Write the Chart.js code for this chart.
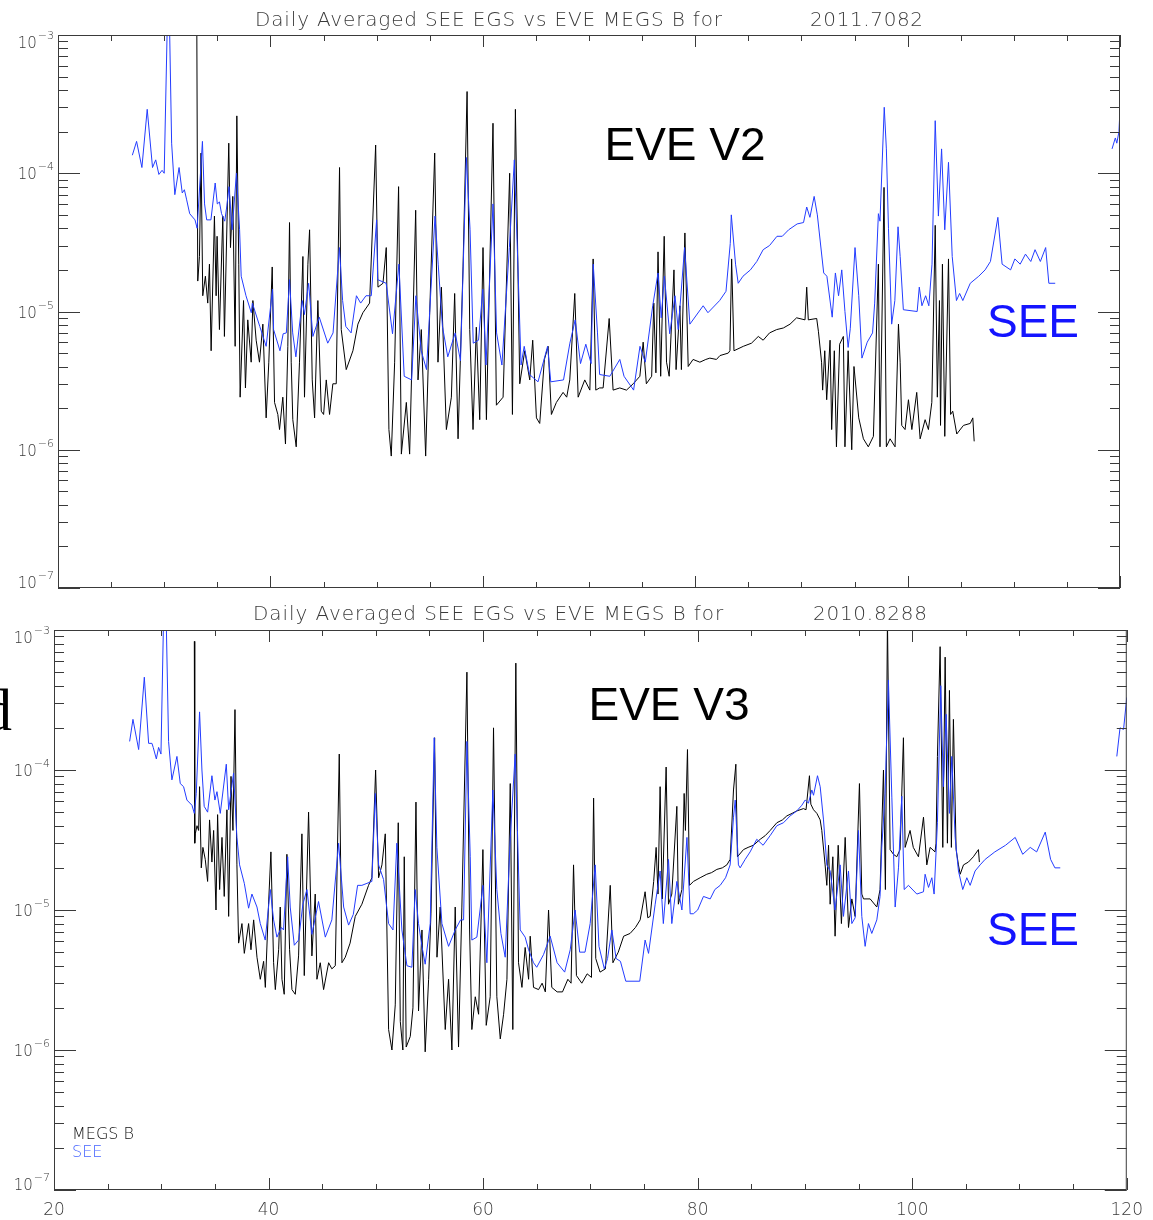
<!DOCTYPE html>
<html>
<head>
<meta charset="utf-8">
<script src="https://cdn.jsdelivr.net/npm/chart.js@4.4.1/dist/chart.umd.min.js"></script>
<style>
  html, body { margin: 0; padding: 0; background: #fff; }
  #wrap { position: relative; width: 1153px; height: 1220px; overflow: hidden; }
  canvas { position: absolute; left: 0; }
</style>
</head>
<body>
<div id="wrap">
  <canvas id="c1" width="1153" height="600" style="top:0"></canvas>
  <canvas id="c2" width="1153" height="620" style="top:600px"></canvas>
</div>
<script>
// ---------------- data (wavelength nm, irradiance) ----------------
const xTickValues = [20, 40, 60, 80, 100, 120];
const yDecades = [1e-7, 1e-6, 1e-5, 1e-4, 1e-3];
const panelTitles = ['Daily Averaged SEE EGS vs EVE MEGS B for', 'Daily Averaged SEE EGS vs EVE MEGS B for'];
const panelDates = ['2011.7082', '2010.8288'];
const panelLabels = ['EVE V2', 'EVE V3'];
const seriesNames = ['MEGS B', 'SEE'];

const v2See = [[27.0,1.35e-4],[27.4,1.7e-4],[27.9,1.1e-4],[28.4,2.9e-4],[28.9,1.1e-4],[29.2,1.25e-4],[29.5,9.8e-5],[29.8,1.05e-4],[30.0,1.0e-4],[30.3,1.3e-3],[30.5,1.2e-3],[30.7,1.65e-4],[31.0,7e-5],[31.4,1.1e-4],[31.7,7.2e-5],[31.9,7.6e-5],[32.1,6.5e-5],[32.4,5.1e-5],[32.9,4.6e-5],[33.1,4e-5],[33.6,1.7e-4],[33.8,6e-5],[34.0,4.6e-5],[34.4,4.6e-5],[34.8,8.5e-5],[35.0,6e-5],[35.2,6.2e-5],[35.4,5.1e-5],[35.7,4.5e-5],[35.9,5.8e-5],[36.1,8e-5],[36.4,3.9e-5],[36.8,1.0e-4],[37.1,3.9e-5],[37.25,1.8e-5],[37.7,1.3e-5],[38.2,9.8e-6],[38.3,1.15e-5],[39.0,7.8e-6],[39.6,5.6e-6],[40.2,1.45e-5],[40.3,7.4e-6],[40.9,5.2e-6],[41.2,6.9e-6],[41.5,7e-6],[41.8,1.7e-5],[42.1,7e-6],[42.4,4.7e-6],[43.0,1.2e-5],[43.2,9.5e-6],[43.6,1.6e-5],[44.0,6.6e-6],[44.6,9.1e-6],[45.4,5.9e-6],[45.9,7e-6],[46.5,2.9e-5],[46.8,1.2e-5],[47.1,7.8e-6],[47.6,7e-6],[48.1,1.3e-5],[48.5,1.15e-5],[49.0,1.3e-5],[49.5,1.3e-5],[50.0,4.6e-5],[50.1,1.7e-5],[50.9,1.6e-5],[51.5,6.9e-6],[52.1,2.2e-5],[52.6,3.4e-6],[53.3,3.2e-6],[53.7,1.3e-5],[54.2,5.2e-6],[54.7,3.8e-6],[55.5,4.9e-5],[55.8,2.2e-5],[56.2,7.8e-6],[56.7,4.7e-6],[57.4,7e-6],[57.9,4.4e-6],[58.45,1.3e-4],[58.8,3.9e-5],[59.1,5.9e-6],[59.6,6.2e-6],[60.0,1.45e-5],[60.3,4.1e-6],[60.96,6e-5],[61.3,7e-6],[61.8,4.1e-6],[62.5,2.9e-5],[62.97,1.25e-4],[63.3,2.2e-5],[63.6,4.1e-6],[63.9,5.6e-6],[64.4,3.5e-6],[65.2,3.1e-6],[66.1,5.6e-6],[66.4,3.1e-6],[67.6,3.2e-6],[68.2,5.9e-6],[68.7,8.7e-6],[69.2,4.2e-6],[69.7,5.8e-6],[70.2,4.2e-6],[70.4,2.2e-5],[70.8,7e-6],[71.0,3.5e-6],[71.96,3.4e-6],[72.9,4.5e-6],[73.3,3.4e-6],[74.2,2.7e-6],[74.8,5.6e-6],[75.3,4.3e-6],[76.0,1.1e-5],[76.5,1.9e-5],[76.8,9e-6],[77.1,1.8e-5],[77.6,6.9e-6],[78.1,1.3e-5],[78.4,7.4e-6],[79.0,2.9e-5],[79.5,8.1e-6],[80.75,1.1e-5],[81.2,9.8e-6],[82.3,1.2e-5],[82.9,1.4e-5],[83.3,3.1e-5],[83.4,5e-5],[83.8,2.2e-5],[84.05,1.6e-5],[84.5,1.8e-5],[85.2,2.0e-5],[85.8,2.3e-5],[86.4,2.8e-5],[87.0,3.0e-5],[87.7,3.5e-5],[88.2,3.5e-5],[88.8,3.9e-5],[89.6,4.3e-5],[90.2,4.4e-5],[90.5,5.7e-5],[90.8,4.8e-5],[91.2,6.8e-5],[91.5,5.0e-5],[92.1,1.9e-5],[92.4,1.8e-5],[92.9,9.1e-6],[93.2,1.9e-5],[93.5,1.3e-5],[93.8,2.0e-5],[94.1,1.0e-5],[94.4,5.5e-6],[94.6,7.5e-6],[95.05,2.9e-5],[95.4,1.3e-5],[95.7,4.6e-6],[96.2,6e-6],[96.7,7e-6],[96.9,1.15e-5],[97.25,5.1e-5],[97.4,4.5e-5],[97.8,3e-4],[98.0,1.5e-4],[98.2,4e-5],[98.5,8.1e-6],[98.8,1.2e-5],[99.1,4.1e-5],[99.3,2.5e-5],[99.6,1.03e-5],[100.9,1.0e-5],[101.1,1.5e-5],[101.35,1.1e-5],[101.7,1.3e-5],[102.0,1.1e-5],[102.3,2.2e-5],[102.6,2.4e-4],[102.9,4.9e-5],[103.2,1.5e-4],[103.5,3.9e-5],[103.85,1.2e-4],[104.2,2.5e-5],[104.6,1.2e-5],[104.9,1.35e-5],[105.2,1.2e-5],[105.9,1.6e-5],[106.7,1.8e-5],[107.3,2e-5],[107.8,2.3e-5],[108.5,4.8e-5],[108.9,2.2e-5],[109.7,2e-5],[110.1,2.4e-5],[110.6,2.2e-5],[111.1,2.6e-5],[111.6,2.3e-5],[112.0,2.8e-5],[112.5,2.3e-5],[113.0,2.9e-5],[113.3,1.6e-5],[113.9,1.6e-5],[116.0,null],[119.25,1.5e-4],[119.56,1.8e-4],[119.7,1.65e-4],[119.9,2e-4],[120.0,2.9e-4]];

const v2Megs = [[33.07,1.2e-3],[33.16,1.66e-5],[33.32,2.5e-5],[33.47,1.4e-4],[33.63,1.3e-5],[33.88,1.8e-5],[34.10,1.15e-5],[34.26,2.2e-5],[34.42,5.2e-6],[34.73,4.9e-5],[34.89,1.3e-5],[34.98,3.5e-5],[35.20,7.4e-6],[35.52,4.9e-5],[35.67,6.6e-6],[36.08,1.65e-4],[36.24,2.9e-5],[36.46,6.8e-5],[36.68,5.6e-6],[36.84,2.6e-4],[37.02,2.2e-5],[37.15,2.4e-6],[37.47,1.2e-5],[37.65,2.8e-6],[37.87,8.7e-6],[38.19,4.3e-6],[38.35,1.2e-5],[38.66,6.2e-6],[38.97,4.3e-6],[39.29,8.1e-6],[39.60,1.7e-6],[39.85,4.3e-6],[40.17,2.1e-5],[40.39,2.2e-6],[40.70,1.8e-6],[40.86,1.4e-6],[41.17,2.4e-6],[41.42,1.1e-6],[41.64,5.6e-6],[41.80,4.4e-5],[41.96,4.3e-6],[42.11,1.65e-6],[42.43,1.05e-6],[42.74,4.3e-6],[43.06,2.5e-5],[43.21,2.4e-6],[43.53,2.2e-5],[43.69,3.9e-5],[43.94,3.2e-6],[44.16,1.7e-6],[44.47,1.2e-5],[44.79,1.9e-6],[45.01,1.8e-6],[45.26,3.2e-6],[45.57,1.8e-6],[45.88,3e-6],[46.20,3e-6],[46.51,1.1e-4],[46.67,7.4e-6],[47.14,3.8e-6],[47.77,5.2e-6],[48.24,8.1e-6],[48.71,9.8e-6],[49.34,1.15e-5],[49.91,1.6e-4],[50.13,1.5e-5],[50.60,1.6e-5],[50.91,2.9e-5],[51.16,1.4e-6],[51.38,9e-7],[51.70,4.3e-6],[52.07,8e-5],[52.33,9.3e-7],[52.80,2.2e-6],[53.11,9.3e-7],[53.68,5.4e-5],[53.90,3.2e-6],[54.21,7.4e-6],[54.62,9e-7],[55.00,9.8e-6],[55.47,1.4e-4],[55.78,4.3e-6],[56.10,1.5e-5],[56.57,1.4e-6],[57.04,2.4e-6],[57.35,1.35e-5],[57.67,1.2e-6],[58.14,2.1e-5],[58.52,3.9e-4],[58.77,7.4e-6],[59.08,1.4e-6],[59.39,7.7e-6],[59.71,1.65e-6],[60.02,2.9e-5],[60.34,1.65e-6],[60.96,2.3e-4],[61.28,2.1e-6],[61.91,2.4e-6],[62.53,1e-4],[62.79,1.8e-6],[63.07,2.9e-4],[63.48,3e-6],[63.95,5.2e-6],[64.42,3.2e-6],[64.7,6.2e-6],[65.05,1.7e-6],[65.36,1.55e-6],[65.8,4.5e-6],[66.15,5.6e-6],[66.46,1.8e-6],[66.93,2.2e-6],[67.56,2.6e-6],[67.9,2.4e-6],[68.19,3.2e-6],[68.66,1.35e-5],[68.98,2.4e-6],[69.6,3.2e-6],[70.08,2.7e-6],[70.39,2.4e-5],[70.64,2.7e-6],[71.0,2.8e-6],[71.33,2.8e-6],[71.9,8.9e-6],[72.27,2.7e-6],[72.9,2.8e-6],[73.53,2.7e-6],[74.16,3e-6],[74.79,3.4e-6],[75.1,6e-6],[75.4,3e-6],[75.9,3.4e-6],[76.1,1.15e-5],[76.3,3.6e-6],[76.5,2.7e-5],[76.75,3.4e-6],[77.08,3.5e-5],[77.3,4.3e-6],[77.55,3.4e-6],[78.0,2e-5],[78.2,3.8e-6],[78.56,1.1e-5],[78.7,3.8e-6],[79.03,3.7e-5],[79.34,4e-6],[79.8,4.5e-6],[80.44,4.3e-6],[81.0,4.5e-6],[81.38,4.6e-6],[82.0,4.5e-6],[82.33,4.8e-6],[83.11,5e-6],[83.27,5.2e-6],[83.43,2.4e-5],[83.65,5.2e-6],[84.53,5.6e-6],[85.3,5.9e-6],[85.94,6.6e-6],[86.4,6.2e-6],[87.0,7e-6],[87.67,7.4e-6],[88.3,7.6e-6],[88.93,8.1e-6],[89.55,9e-6],[90.34,8.7e-6],[90.5,1.5e-5],[90.65,8.7e-6],[91.44,8.9e-6],[91.6,7.2e-6],[91.9,4.3e-6],[92.0,2.7e-6],[92.2,5.2e-6],[92.38,2.3e-6],[92.7,6.2e-6],[92.85,1.4e-6],[93.1,5.2e-6],[93.3,1.05e-6],[93.6,5.8e-6],[93.95,6.6e-6],[94.1,1.05e-6],[94.4,5.2e-6],[94.74,1e-6],[94.95,4e-6],[95.4,1.7e-6],[95.84,1.2e-6],[96.3,1.05e-6],[96.78,1.25e-6],[97.25,2.2e-5],[97.4,1.05e-6],[97.78,7.9e-5],[98.0,1.05e-6],[98.35,1.2e-6],[98.82,1.05e-6],[99.14,8.1e-6],[99.3,4.3e-6],[99.45,1.5e-6],[99.76,1.4e-6],[100.08,2.3e-6],[100.4,1.4e-6],[100.86,2.6e-6],[101.18,1.2e-6],[101.65,1.65e-6],[101.96,1.4e-6],[102.28,2.2e-6],[102.6,4.2e-5],[102.8,2.4e-6],[103.0,1.2e-5],[103.1,1.5e-6],[103.28,2.2e-5],[103.5,1.25e-6],[103.85,2.4e-5],[104.05,1.8e-6],[104.25,1.9e-6],[104.63,1.3e-6],[105.26,1.5e-6],[105.9,1.55e-6],[106.14,1.7e-6],[106.27,1.15e-6]];

const v3See = [[27.05,1.6e-4],[27.36,2.3e-4],[27.89,1.4e-4],[28.42,4.6e-4],[28.82,1.55e-4],[29.13,1.55e-4],[29.25,1.45e-4],[29.54,1.2e-4],[29.75,1.45e-4],[29.97,1.3e-4],[30.22,1.3e-3],[30.45,1.3e-3],[30.68,1.6e-4],[30.99,8.5e-5],[31.46,1.25e-4],[31.77,8e-5],[32.08,7.6e-5],[32.39,6.1e-5],[32.86,5.6e-5],[33.08,4.9e-5],[33.26,6.8e-5],[33.57,2.6e-4],[33.79,1e-4],[34.0,5.5e-5],[34.32,5e-5],[34.72,9.1e-5],[35.0,6.1e-5],[35.19,7e-5],[35.5,4.9e-5],[36.06,1.1e-4],[36.28,5.2e-5],[36.74,9.5e-5],[37.05,3.3e-5],[37.3,2.1e-5],[37.74,1.55e-5],[38.14,1.03e-5],[38.45,1.3e-5],[38.92,1.05e-5],[39.23,8e-6],[39.69,6.1e-6],[40.16,1.4e-5],[40.47,8.5e-6],[40.78,6.4e-6],[41.2,7.5e-6],[41.4,7.2e-6],[41.78,2.4e-5],[42.02,1.05e-5],[42.4,5.6e-6],[42.8,6.1e-6],[43.2,1.1e-5],[43.58,1.4e-5],[44.04,6.7e-6],[44.66,1.15e-5],[45.29,6.4e-6],[45.9,8.5e-6],[46.53,3e-5],[47.0,1.05e-5],[47.46,7.8e-6],[47.9,9.3e-6],[48.3,1.5e-5],[48.7,1.5e-5],[49.17,1.55e-5],[49.63,1.6e-5],[49.95,6.8e-5],[50.26,2.1e-5],[50.72,1.65e-5],[51.19,8e-6],[51.6,7.2e-6],[51.96,3e-5],[52.43,7.2e-6],[52.9,4e-6],[53.36,3.9e-6],[53.67,1.4e-5],[53.98,8e-6],[54.3,5.5e-6],[54.6,4.1e-6],[55.07,8e-6],[55.44,1.7e-4],[55.69,2.8e-5],[56.16,8e-6],[56.78,5.5e-6],[57.4,7.2e-6],[57.9,8.5e-6],[58.18,8.5e-6],[58.49,1.6e-4],[58.8,2.4e-5],[58.95,6.1e-6],[59.42,6.4e-6],[59.98,1.5e-5],[60.35,4.2e-6],[60.91,7.2e-5],[61.28,1.4e-5],[61.66,6.8e-6],[62.06,4.6e-6],[62.53,3.3e-5],[62.99,1.3e-4],[63.2,3.7e-5],[63.46,7.2e-6],[63.92,6.4e-6],[64.24,5.2e-6],[64.7,4.2e-6],[65.0,3.9e-6],[65.63,4.8e-6],[66.25,6.5e-6],[66.9,4.2e-6],[67.6,3.6e-6],[68.12,5.2e-6],[68.58,1e-5],[69.0,5e-6],[69.5,5e-6],[69.98,8e-6],[70.45,2.1e-5],[70.8,5.5e-6],[71.3,3.8e-6],[71.6,4.5e-6],[72.0,7.2e-6],[72.4,4.5e-6],[72.8,4.3e-6],[73.3,3.1e-6],[74.6,3.1e-6],[75.1,6.1e-6],[75.42,4.9e-6],[76.04,1.1e-5],[76.5,1.9e-5],[76.8,8e-6],[77.28,2.3e-5],[77.59,8e-6],[78.06,1.6e-5],[78.53,1e-5],[79.0,3.3e-5],[79.3,9.4e-6],[79.6,9.4e-6],[80.0,1e-5],[80.54,1.25e-5],[81.17,1.2e-5],[81.6,1.4e-5],[82.1,1.5e-5],[82.6,1.7e-5],[83.03,2.1e-5],[83.34,4.6e-5],[83.5,6.1e-5],[83.8,2.1e-5],[83.96,2e-5],[84.43,2.3e-5],[84.89,2.6e-5],[85.51,3.2e-5],[86.1,2.9e-5],[86.76,3.4e-5],[87.38,4e-5],[88.0,4.2e-5],[88.62,4.7e-5],[89.24,5.1e-5],[89.71,5.6e-5],[90.02,6.1e-5],[90.33,5.8e-5],[90.64,7.2e-5],[90.8,6.6e-5],[91.17,9.1e-5],[91.42,7.6e-5],[91.73,4.4e-5],[92.04,2.1e-5],[92.35,1.9e-5],[92.81,1e-5],[93.28,2.1e-5],[93.59,9e-6],[94.06,1.9e-5],[94.37,8e-6],[94.68,8.8e-6],[94.99,3.7e-5],[95.3,9e-6],[95.61,5.5e-6],[95.92,8e-6],[96.23,6.8e-6],[96.7,8.5e-6],[97.0,1.25e-5],[97.16,2.8e-5],[97.47,6.8e-5],[97.78,4.4e-4],[98.1,6.4e-5],[98.41,1.05e-5],[98.72,2e-5],[99.03,6.5e-5],[99.25,1.4e-5],[99.65,1.5e-5],[100.43,1.3e-5],[101.05,1.35e-5],[101.2,1.8e-5],[101.52,1.45e-5],[101.83,1.7e-5],[102.04,1.3e-5],[102.35,4.2e-5],[102.66,4e-4],[102.9,7.6e-5],[103.16,2.5e-4],[103.47,4.9e-5],[103.69,1.25e-4],[104.0,3.3e-5],[104.31,1.9e-5],[104.71,1.4e-5],[105.09,1.7e-5],[105.4,1.5e-5],[105.86,1.9e-5],[106.33,2.1e-5],[106.8,2.3e-5],[107.7,2.6e-5],[108.7,2.9e-5],[109.6,3.3e-5],[110.3,2.5e-5],[111.0,2.8e-5],[111.6,2.6e-5],[112.4,3.6e-5],[112.9,2.3e-5],[113.3,2e-5],[113.8,2e-5],[116.0,null],[119.07,1.25e-4],[119.37,2e-4],[119.7,1.95e-4],[120.0,3.3e-4]];

const v3Megs = [[33.08,8.3e-4],[33.12,3e-5],[33.17,3.5e-5],[33.33,4e-5],[33.48,3.7e-5],[33.57,7.6e-5],[33.73,2e-5],[33.88,2.8e-5],[34.1,2.3e-5],[34.32,1.6e-5],[34.5,4.4e-5],[34.72,2.2e-5],[34.88,3.7e-5],[35.1,1e-5],[35.25,4.8e-5],[35.44,1.4e-5],[35.66,3.3e-5],[35.87,1.25e-5],[36.12,5.2e-5],[36.28,9e-6],[36.5,9e-5],[36.68,3.7e-5],[36.87,2.7e-4],[37.05,2.1e-5],[37.21,5.8e-6],[37.52,8e-6],[37.74,4.9e-6],[38.14,8e-6],[38.36,5.2e-6],[38.61,8.5e-6],[38.92,4.6e-6],[39.23,3.2e-6],[39.54,4.3e-6],[39.7,2.8e-6],[40.0,1.1e-5],[40.22,2.6e-5],[40.47,4.2e-6],[40.63,2.7e-6],[40.94,5.2e-6],[41.09,1.05e-5],[41.25,3.2e-6],[41.46,2.5e-6],[41.71,2.5e-5],[41.96,5.2e-6],[42.18,2.7e-6],[42.49,2.5e-6],[42.8,4.7e-6],[43.11,3.5e-5],[43.33,3.4e-6],[43.73,5e-5],[44.04,4.7e-6],[44.35,1.3e-5],[44.51,3.2e-6],[44.82,4.2e-6],[45.13,2.7e-6],[45.6,4.2e-6],[45.9,3.8e-6],[46.22,4e-6],[46.59,1.3e-4],[46.84,4.2e-6],[47.15,4.6e-6],[47.6,5.8e-6],[48.08,9e-6],[48.7,1.1e-5],[49.32,1.5e-5],[49.63,1.7e-5],[49.98,1e-4],[50.26,1.7e-5],[50.57,2.1e-5],[50.88,3.5e-5],[51.19,1.4e-6],[51.5,1e-6],[51.81,2.1e-6],[52.09,4.2e-5],[52.28,1.6e-6],[52.52,1e-6],[52.65,2.4e-5],[52.83,1.05e-6],[53.21,1.25e-6],[53.46,2e-6],[53.74,5.9e-5],[53.98,1.9e-6],[54.3,7.2e-6],[54.6,9.7e-7],[54.92,3.2e-6],[55.14,9.5e-6],[55.48,1.7e-4],[55.7,4.6e-6],[56.0,1.05e-5],[56.47,1.4e-6],[56.78,3.2e-6],[57.09,1e-6],[57.4,1.05e-5],[57.71,1.05e-6],[58.02,1.05e-5],[58.49,5e-4],[58.74,7.2e-6],[58.95,1.4e-6],[59.27,2.4e-6],[59.58,1.8e-6],[59.98,2.7e-5],[60.29,1.5e-6],[60.66,2.4e-6],[60.97,2e-4],[61.28,2.4e-6],[61.6,1.2e-6],[61.91,1.8e-6],[62.22,3.2e-6],[62.53,8e-5],[62.77,1.4e-6],[63.05,5.8e-4],[63.3,4.2e-6],[63.62,2.8e-6],[63.92,5.4e-6],[64.24,3.2e-6],[64.39,6.5e-6],[64.7,2.8e-6],[65.17,2.7e-6],[65.5,3e-6],[65.8,2.6e-6],[66.1,1e-5],[66.4,2.8e-6],[66.9,2.6e-6],[67.4,2.6e-6],[67.9,3.2e-6],[68.2,3e-6],[68.43,2.1e-5],[68.7,3.4e-6],[69.2,3e-6],[69.7,3.5e-6],[70.1,3.3e-6],[70.3,6.3e-5],[70.5,4.5e-6],[70.9,3.6e-6],[71.4,3.8e-6],[71.85,1.5e-5],[72.1,4.2e-6],[72.6,5e-6],[73.1,6.5e-6],[73.7,6.8e-6],[74.2,7.5e-6],[74.64,8.5e-6],[75.1,1.35e-5],[75.35,8.8e-6],[75.57,9e-6],[75.9,1.6e-5],[76.13,2.8e-5],[76.3,1.3e-5],[76.5,7.6e-5],[76.7,1.2e-5],[77.06,1.05e-4],[77.28,1.1e-5],[77.59,1.3e-5],[78.06,5.5e-5],[78.2,1.1e-5],[78.53,1.4e-5],[78.74,6.8e-5],[78.86,3.7e-5],[79.05,1.4e-4],[79.24,1.5e-5],[79.61,1.6e-5],[80.23,1.7e-5],[80.85,1.8e-5],[81.3,1.85e-5],[81.79,1.95e-5],[82.3,2e-5],[82.72,2.1e-5],[83.03,2.3e-5],[83.34,7.2e-5],[83.56,1.1e-4],[83.71,2.4e-5],[84.27,2.7e-5],[84.7,2.8e-5],[85.2,2.9e-5],[85.83,3.2e-5],[86.3,3.4e-5],[86.76,3.7e-5],[87.38,4.2e-5],[87.9,4.4e-5],[88.31,4.7e-5],[88.8,4.9e-5],[89.24,5.1e-5],[89.86,5.3e-5],[90.1,5.2e-5],[90.42,9.1e-5],[90.55,5.7e-5],[90.8,5.2e-5],[91.11,4.9e-5],[91.42,4.4e-5],[91.57,3.7e-5],[91.88,2.1e-5],[92.04,1.5e-5],[92.2,2.9e-5],[92.35,1.1e-5],[92.6,2.4e-5],[92.81,6.5e-6],[93.1,2.9e-5],[93.4,8e-6],[93.75,3.3e-5],[94.06,7.5e-6],[94.37,1.2e-5],[94.68,9e-6],[95.08,8e-5],[95.3,1.3e-5],[95.46,1.2e-5],[96.08,1.2e-5],[96.7,1.05e-5],[97.0,1.4e-5],[97.32,1e-4],[97.5,1.4e-5],[97.69,1.2e-3],[97.94,2.7e-5],[98.25,2.5e-5],[98.56,2.4e-5],[98.87,2.7e-5],[99.18,1.7e-4],[99.34,2.8e-5],[99.8,3.7e-5],[100.1,2.8e-5],[100.58,2.4e-5],[101.05,4.6e-5],[101.36,2.1e-5],[101.67,2.8e-5],[102.13,2.6e-5],[102.22,3e-5],[102.35,1.25e-4],[102.6,7.6e-4],[102.85,2.8e-5],[103.07,6.4e-4],[103.28,3e-5],[103.47,3.7e-4],[103.65,2.8e-5],[103.84,2.3e-4],[104.09,2.7e-5],[104.31,2.1e-5],[104.47,1.8e-5],[104.78,2.1e-5],[105.24,2.2e-5],[105.7,2.4e-5],[106.17,2.7e-5],[106.26,2.2e-5]];

// ---------------- helpers ----------------
function decadeParts(v) {
  const e = Math.log10(v);
  const r = Math.round(e);
  if (Math.abs(e - r) > 1e-6) return null;
  return { base: '10', exp: (r < 0 ? '\u2212' : '') + String(Math.abs(r)) };
}
function toXY(arr) { return arr.map(p => ({x: p[0], y: p[1]})); }

const SEE_BLUE = 'rgb(35,60,255)';
const AXIS_COL = '#3a3a3a';
const THIN_FONT = '"DejaVu Sans", sans-serif';

function framePlugin(geom) {
  return {
    id: 'idlFrame',
    afterDraw(chart) {
      const {ctx, chartArea: a} = chart;
      const xs = chart.scales.x, ys = chart.scales.y;
      ctx.save();
      ctx.strokeStyle = AXIS_COL;
      ctx.lineWidth = 1;
      ctx.strokeRect(a.left + 0.5, a.top + 0.5, a.right - a.left - 1, a.bottom - a.top - 1);
      ctx.beginPath();
      for (let v = 20; v <= 120; v += 5) {
        const px = Math.round(xs.getPixelForValue(v)) + 0.5;
        const len = (v % 20 === 0) ? 12 : 6;
        ctx.moveTo(px, a.bottom); ctx.lineTo(px, a.bottom - len);
        ctx.moveTo(px, a.top); ctx.lineTo(px, a.top + len);
      }
      for (let d = 0; d < yDecades.length; d++) {
        for (let m = 1; m <= 9; m++) {
          const v = yDecades[d] * m;
          if (v > 1.0001e-3) break;
          const py = Math.round(ys.getPixelForValue(v)) + 0.5;
          const len = (m === 1) ? 22 : 10;
          ctx.moveTo(a.left, py); ctx.lineTo(a.left + len, py);
          ctx.moveTo(a.right, py); ctx.lineTo(a.right - len, py);
        }
      }
      ctx.stroke();

      // y tick labels: 10 with raised exponent
      ctx.fillStyle = '#3a3a3a';
      ctx.textBaseline = 'alphabetic';
      ys.ticks.forEach(t => {
        const p = decadeParts(t.value);
        if (!p) return;
        const py = ys.getPixelForValue(t.value);
        let base = py + 6;
        if (base < a.top + 13) base = a.top + 13;
        if (base > a.bottom) base = a.bottom;
        ctx.textAlign = 'right';
        ctx.font = '200 11px ' + THIN_FONT;
        const ex = a.left - 4;
        ctx.fillText(p.exp, ex, base - 9);
        const ew = ctx.measureText(p.exp).width;
        ctx.font = '200 15px ' + THIN_FONT;
        ctx.fillText(p.base, ex - ew - 1, base);
      });

      // title
      ctx.font = '200 20px ' + THIN_FONT;
      ctx.textAlign = 'left';
      const t = geom.title;
      const w0 = ctx.measureText(t).width;
      ctx.letterSpacing = ((geom.titleW - w0) / (t.length - 1)).toFixed(2) + 'px';
      ctx.fillText(t, geom.titleX, geom.titleY);
      ctx.letterSpacing = '0px';
      const dw = ctx.measureText(geom.date).width;
      ctx.letterSpacing = ((geom.dateW - dw) / (geom.date.length - 1)).toFixed(2) + 'px';
      ctx.fillText(geom.date, geom.dateX, geom.titleY);
      ctx.letterSpacing = '0px';

      // big annotations
      ctx.font = '46px "Liberation Sans", Arial, sans-serif';
      ctx.fillStyle = '#000';
      ctx.textAlign = 'center';
      ctx.fillText(geom.label, geom.labelX, geom.labelY);
      ctx.fillStyle = '#1414ff';
      ctx.textAlign = 'left';
      ctx.fillText(seriesNames[1], 987, geom.seeY);

      if (geom.legend) {
        ctx.font = '200 16px ' + THIN_FONT;
        ctx.fillStyle = '#111';
        ctx.fillText(seriesNames[0], 72, geom.legendY1);
        ctx.fillStyle = 'rgb(70,100,255)';
        ctx.fillText(seriesNames[1], 72, geom.legendY2);
      }
      if (geom.stray) {
        ctx.font = '60px "Liberation Serif", "Times New Roman", serif';
        ctx.fillStyle = '#000';
        ctx.fillText('d', -18, geom.strayY);
      }
      ctx.restore();
    }
  };
}

function makeChart(canvasId, see, megs, g) {
  return new Chart(document.getElementById(canvasId), {
    type: 'line',
    data: {
      datasets: [
        { label: seriesNames[1], data: toXY(see), borderColor: SEE_BLUE, borderWidth: 1,
          pointRadius: 0, tension: 0, spanGaps: false, order: 0, fill: false },
        { label: seriesNames[0], data: toXY(megs), borderColor: '#000', borderWidth: 1,
          pointRadius: 0, tension: 0, order: 1, fill: false }
      ]
    },
    options: {
      responsive: false,
      animation: false,
      devicePixelRatio: 1,
      layout: { padding: { top: g.padTop, right: g.padRight, left: 0, bottom: 0 } },
      plugins: { legend: { display: false }, title: { display: false }, tooltip: { enabled: false } },
      scales: {
        x: {
          type: 'linear', min: 20, max: 120,
          grid: { display: false, drawTicks: false },
          border: { display: false },
          afterBuildTicks: (s) => { s.ticks = xTickValues.map(v => ({ value: v })); },
          ticks: { display: g.xLabels, autoSkip: false, maxRotation: 0, padding: 10,
                   color: '#3a3a3a', font: { family: THIN_FONT, size: 17, weight: '200' },
                   callback: (v) => String(v) },
          afterFit: (s) => { s.height = g.xHeight; }
        },
        y: {
          type: 'logarithmic', min: 1e-7, max: 1e-3,
          grid: { display: false, drawTicks: false },
          border: { display: false },
          afterBuildTicks: (s) => { s.ticks = yDecades.map(v => ({ value: v, major: true })); },
          ticks: { display: false, autoSkip: false },
          afterFit: (s) => { s.width = g.yWidth; }
        }
      }
    },
    plugins: [framePlugin(g)]
  });
}

makeChart('c1', v2See, v2Megs, {
  padTop: 35, padRight: 33, xHeight: 12, yWidth: 58, xLabels: false,
  title: panelTitles[0], titleX: 255, titleW: 467, titleY: 26,
  date: panelDates[0], dateX: 810, dateW: 113,
  label: panelLabels[0], labelX: 685, labelY: 160, seeY: 337,
  legend: false, stray: false
});
makeChart('c2', v3See, v3Megs, {
  padTop: 30, padRight: 26, xHeight: 30, yWidth: 54, xLabels: true,
  title: panelTitles[1], titleX: 253, titleW: 470, titleY: 20,
  date: panelDates[1], dateX: 813, dateW: 114,
  label: panelLabels[1], labelX: 669, labelY: 120, seeY: 345,
  legend: true, legendY1: 539, legendY2: 557, stray: true, strayY: 130
});
</script>
</body>
</html>
